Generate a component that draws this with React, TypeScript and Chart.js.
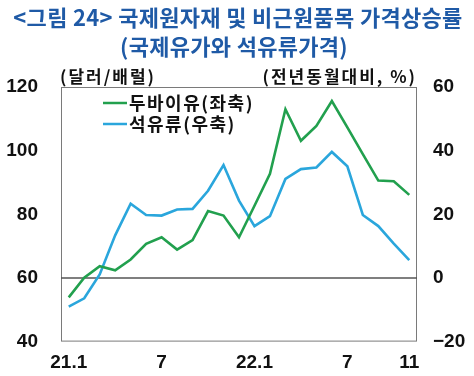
import React, { useEffect, useRef } from "react";
import { Chart, registerables } from "chart.js";

Chart.register(...registerables);

const categories = [
  "21.1", "21.2", "21.3", "21.4", "21.5", "21.6", "21.7", "21.8", "21.9", "21.10", "21.11", "21.12",
  "22.1", "22.2", "22.3", "22.4", "22.5", "22.6", "22.7", "22.8", "22.9", "22.10", "22.11",
];
const xTickLabels = [
  "21.1", "", "", "", "", "", "7", "", "", "", "", "",
  "22.1", "", "", "", "", "", "7", "", "", "", "11",
];
const dubaiOil = [
  53.9, 60.1, 63.7, 62.4, 65.8, 70.7, 72.8, 68.9, 71.9, 81.0, 79.6, 72.8,
  82.7, 92.7, 113.0, 103.1, 107.8, 115.6, 107.3, 98.9, 90.6, 90.4, 86.1,
];
const petroleum = [
  -9.0, -6.4, 1.1, 13.4, 23.3, 19.8, 19.6, 21.5, 21.7, 27.4, 35.5, 24.3,
  16.3, 19.4, 31.1, 34.2, 34.7, 39.6, 35.1, 19.8, 16.3, 10.8, 5.6,
];
const leftTicks = [40, 60, 80, 100, 120];
const rightTicks = [-20, 0, 20, 40, 60];
const seriesLabels = ["두바이유(좌축)", "석유류(우축)"];
const titleLines = ["<그림 24> 국제원자재 및 비근원품목 가격상승률", "(국제유가와 석유류가격)"];
const leftUnit = "(달러/배럴)";
const rightUnit = "(전년동월대비, %)";

const GREEN = "#22a04e";
const BLUE = "#2aa6dc";
const TITLE_BLUE = "#1f5aa6";
const KFONT = "'Noto Sans CJK KR', 'Noto Sans', sans-serif";
const NFONT = "'Liberation Sans', Arial, sans-serif";

const decorPlugin = {
  id: "decor",
  beforeDatasetsDraw(chart: any) {
    const { ctx, chartArea: a, scales } = chart;
    ctx.save();
    ctx.strokeStyle = "#7a7a7a";
    ctx.lineWidth = 1;
    ctx.strokeRect(a.left + 0.5, a.top + 0.5, a.right - a.left - 1, a.bottom - a.top - 1);
    const y0 = scales.y1.getPixelForValue(0);
    ctx.strokeStyle = "#555";
    ctx.lineWidth = 1.5;
    ctx.beginPath();
    ctx.moveTo(a.left, y0);
    ctx.lineTo(a.right, y0);
    ctx.stroke();
    ctx.restore();
  },
  afterDraw(chart: any) {
    const { ctx } = chart;
    ctx.save();
    ctx.fillStyle = TITLE_BLUE;
    ctx.font = `bold 22px ${KFONT}`;
    ctx.textAlign = "center";
    ctx.textBaseline = "middle";
    ctx.letterSpacing = "0.3px";
    ctx.fillText(titleLines[0], 238, 18);
    ctx.fillText(titleLines[1], 234, 47);
    ctx.fillStyle = "#111";
    ctx.font = `bold 17px ${KFONT}`;
    ctx.letterSpacing = "2px";
    ctx.textAlign = "left";
    ctx.fillText(leftUnit, 60, 77);
    ctx.textAlign = "right";
    ctx.fillText(rightUnit, 417, 77);
    const items = chart.data.datasets;
    const ys = [103, 124];
    items.forEach((ds: any, i: number) => {
      ctx.strokeStyle = ds.borderColor;
      ctx.lineWidth = 2.5;
      ctx.beginPath();
      ctx.moveTo(103, ys[i]);
      ctx.lineTo(127, ys[i]);
      ctx.stroke();
      ctx.fillStyle = "#111";
      ctx.font = `bold 18px ${KFONT}`;
      ctx.letterSpacing = "1.5px";
      ctx.textAlign = "left";
      ctx.fillText(ds.label, 129, ys[i]);
    });
    ctx.restore();
  },
};

export default function App() {
  const ref = useRef<HTMLCanvasElement | null>(null);
  useEffect(() => {
    if (!ref.current) return;
    const tickFont = { family: NFONT, size: 19, weight: "bold" as const };
    const chart = new Chart(ref.current, {
      type: "line",
      data: {
        labels: categories,
        datasets: [
          {
            label: seriesLabels[0],
            data: dubaiOil,
            borderColor: GREEN,
            backgroundColor: GREEN,
            borderWidth: 2.6,
            pointRadius: 0,
            tension: 0,
            yAxisID: "y",
          },
          {
            label: seriesLabels[1],
            data: petroleum,
            borderColor: BLUE,
            backgroundColor: BLUE,
            borderWidth: 2.6,
            pointRadius: 0,
            tension: 0,
            yAxisID: "y1",
          },
        ],
      },
      options: {
        responsive: false,
        animation: false,
        layout: { padding: { top: 87, left: 0, right: 0, bottom: 0 } },
        plugins: { legend: { display: false }, title: { display: false }, tooltip: { enabled: false } },
        scales: {
          x: {
            type: "category",
            offset: true,
            grid: { display: false, drawTicks: false, tickLength: 0 },
            border: { display: false },
            ticks: {
              autoSkip: false,
              maxRotation: 0,
              padding: 10,
              color: "#111",
              font: tickFont,
              callback: (_v: any, i: number) => xTickLabels[i],
            },
            afterFit: (s: any) => { s.height = 32.5; },
          },
          y: {
            position: "left",
            min: leftTicks[0],
            max: leftTicks[leftTicks.length - 1],
            afterBuildTicks: (s: any) => { s.ticks = leftTicks.map((v) => ({ value: v })); },
            grid: { display: false, drawTicks: false, tickLength: 0 },
            border: { display: false },
            ticks: { padding: 23, color: "#111", font: tickFont },
            afterFit: (s: any) => { s.width = 61; },
          },
          y1: {
            position: "right",
            min: rightTicks[0],
            max: rightTicks[rightTicks.length - 1],
            afterBuildTicks: (s: any) => { s.ticks = rightTicks.map((v) => ({ value: v })); },
            grid: { display: false, drawTicks: false, tickLength: 0 },
            border: { display: false },
            ticks: {
              padding: 16,
              color: "#111",
              font: tickFont,
              callback: (v: any) => (Number(v) < 0 ? "\u2212" + Math.abs(Number(v)) : String(v)),
            },
            afterFit: (s: any) => { s.width = 57; },
          },
        },
      },
      plugins: [decorPlugin],
    });
    return () => chart.destroy();
  }, []);
  return (
    <div style={{ position: "fixed", left: 0, top: 0, width: 474, height: 376, background: "#fff" }}>
      <canvas ref={ref} width={474} height={376} />
    </div>
  );
}
